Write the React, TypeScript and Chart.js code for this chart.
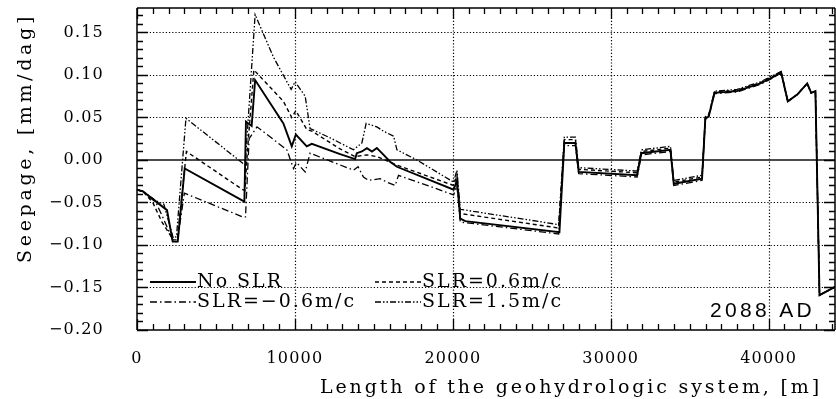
import React, { useEffect, useRef } from "react";
import { Chart, registerables } from "chart.js";

Chart.register(...registerables);

// ---- data ----
const legendLabels = ["No SLR", "SLR=0.6m/c", "SLR=\u22120.6m/c", "SLR=1.5m/c"];
const xTickValues = [0, 10000, 20000, 30000, 40000];
const yTickValues = [-0.2, -0.15, -0.1, -0.05, 0, 0.05, 0.1, 0.15];
const xRange = [0, 44200];
const yRange = [-0.2, 0.1788];
const yearLabel = "2088 AD";
const xTitle = "Length of the geohydrologic system, [m]";
const yTitle = "Seepage, [mm/dag]";

const noSlrX = [0, 380, 1900, 2260, 2580, 3020, 6800, 6900, 7260, 7480, 9270, 9800, 10060, 10750, 11070, 12860, 13810, 13920, 14240, 14560, 14880, 15190, 15510, 16030, 16460, 20050, 20260, 20470, 20790, 26750, 27060, 27760, 27970, 31670, 31940, 33780, 33990, 35780, 35990, 36200, 36570, 38000, 39480, 40320, 40790];
const noSlrY = [-0.035, -0.037, -0.059, -0.096, -0.096, -0.010, -0.049, 0.045, 0.040, 0.094, 0.043, 0.016, 0.030, 0.016, 0.019, 0.007, 0.001, 0.008, 0.010, 0.014, 0.010, 0.014, 0.008, -0.002, -0.008, -0.035, -0.024, -0.069, -0.072, -0.085, 0.020, 0.020, -0.014, -0.018, 0.008, 0.012, -0.028, -0.022, 0.049, 0.051, 0.079, 0.081, 0.090, 0.098, 0.103];

const slr06X = [0, 380, 1000, 1580, 2300, 2550, 3130, 6700, 6830, 7000, 7400, 9270, 9800, 10060, 10750, 11070, 12860, 13810, 14560, 15190, 16460, 20050, 20260, 20470, 26700, 27060, 27760, 27970, 31670, 31940, 33780, 33990, 35780, 35990, 36200, 36570, 38000, 39480, 40320, 40790];
const slr06Y = [-0.035, -0.037, -0.050, -0.073, -0.094, -0.094, 0.010, -0.035, -0.036, 0.012, 0.106, 0.069, 0.050, 0.058, 0.036, 0.034, 0.013, 0.004, 0.006, 0.004, -0.006, -0.030, -0.018, -0.063, -0.080, 0.024, 0.024, -0.011, -0.015, 0.010, 0.014, -0.026, -0.020, 0.050, 0.052, 0.080, 0.082, 0.091, 0.099, 0.104];

const slrM06X = [0, 380, 1200, 1650, 2300, 2550, 3000, 6700, 6870, 7100, 7600, 9490, 9910, 10100, 10650, 10960, 13710, 14000, 14340, 14660, 15400, 15820, 16350, 16560, 20050, 20260, 20470, 26700, 27060, 27760, 27970, 31670, 31940, 33780, 33990, 35780, 35990, 36200, 36570, 38000, 39480, 40320, 40790];
const slrM06Y = [-0.035, -0.037, -0.050, -0.068, -0.096, -0.096, -0.039, -0.067, -0.067, 0.025, 0.039, 0.012, -0.010, -0.003, -0.014, 0.008, -0.012, -0.008, -0.020, -0.024, -0.022, -0.026, -0.030, -0.018, -0.041, -0.030, -0.073, -0.087, 0.017, 0.017, -0.016, -0.020, 0.006, 0.010, -0.030, -0.024, 0.048, 0.050, 0.078, 0.080, 0.089, 0.097, 0.102];

const slr15X = [0, 380, 1200, 1700, 2300, 2500, 3100, 6850, 7480, 8640, 9760, 10010, 10650, 10960, 12230, 13710, 14240, 14510, 15190, 15600, 16250, 16460, 17720, 20050, 20260, 20470, 26700, 27060, 27760, 27970, 31670, 31940, 33780, 33990, 35780, 35990, 36200, 36570, 38000, 39480, 40320, 40790];
const slr15Y = [-0.035, -0.037, -0.048, -0.052, -0.092, -0.090, 0.049, -0.006, 0.171, 0.121, 0.083, 0.092, 0.075, 0.037, 0.026, 0.012, 0.020, 0.043, 0.039, 0.034, 0.028, 0.012, 0.000, -0.026, -0.012, -0.058, -0.076, 0.027, 0.027, -0.009, -0.013, 0.012, 0.016, -0.024, -0.018, 0.051, 0.053, 0.081, 0.083, 0.092, 0.100, 0.104];

// shared tail (all scenarios coincide)
const tailX = [41210, 41810, 42440, 42690, 42960, 43220, 44230];
const tailY = [0.069, 0.077, 0.090, 0.079, 0.081, -0.159, -0.149];

const toPoints = (xs: number[], ys: number[]) =>
  xs.concat(tailX).map((x, i) => ({ x, y: i < ys.length ? ys[i] : tailY[i - ys.length] }));

const SERIF = "'DejaVu Serif', serif";

function drawFitted(ctx: CanvasRenderingContext2D, text: string, x: number, y: number, width: number, font: string) {
  ctx.save();
  ctx.font = font;
  (ctx as any).letterSpacing = "0px";
  const w = ctx.measureText(text).width;
  const s = (width - w) / text.length;
  (ctx as any).letterSpacing = s + "px";
  ctx.textAlign = "left";
  ctx.textBaseline = "alphabetic";
  ctx.fillStyle = "#000";
  ctx.fillText(text, x, y);
  ctx.restore();
}

function strokeSegs(ctx: CanvasRenderingContext2D, segs: number[][], color: string, width: number, dash: number[]) {
  ctx.save();
  ctx.setLineDash(dash);
  ctx.strokeStyle = color;
  ctx.lineWidth = width;
  ctx.beginPath();
  for (const s of segs) {
    ctx.moveTo(s[0], s[1]);
    ctx.lineTo(s[2], s[3]);
  }
  ctx.stroke();
  ctx.restore();
}

const decorPlugin = {
  id: "decor",
  beforeDraw(chart: any) {
    (chart.ctx as any).letterSpacing = "1.2px";
  },
  beforeDatasetsDraw(chart: any) {
    const { ctx, chartArea, scales } = chart;
    const { left, right, top, bottom } = chartArea;
    const xs = scales.x;
    const ys = scales.y;
    // dotted grid
    const grid: number[][] = [];
    xTickValues.forEach((v) => {
      if (v <= xRange[0]) return;
      const px = Math.round(xs.getPixelForValue(v)) + 0.5;
      grid.push([px, top, px, bottom]);
    });
    yTickValues.forEach((v) => {
      if (v <= yRange[0] || v === 0) return;
      const py = Math.round(ys.getPixelForValue(v)) + 0.5;
      grid.push([left, py, right, py]);
    });
    strokeSegs(ctx, grid, "#000", 1.2, [1.2, 2]);
    const py0 = ys.getPixelForValue(0);
    strokeSegs(ctx, [[left, py0, right, py0]], "#111", 1.3, []);
  },
  afterDraw(chart: any) {
    const { ctx, chartArea, scales } = chart;
    const { left, right, top, bottom } = chartArea;
    const xs = scales.x;
    const ys = scales.y;
    ctx.save();
    (ctx as any).letterSpacing = "0px";
    // frame
    strokeSegs(ctx, [[left, top, right, top], [right, top, right, bottom], [right, bottom, left, bottom], [left, bottom, left, top]], "#000", 1.5, []);
    // inward ticks
    const ticks: number[][] = [];
    for (let v = xRange[0]; v <= xRange[1]; v += 1000) {
      const px = Math.round(xs.getPixelForValue(v)) + 0.5;
      const len = v % 10000 === 0 ? 11 : 6;
      ticks.push([px, bottom, px, bottom - len]);
      ticks.push([px, top, px, top + len]);
    }
    for (let i = -20; i / 100 <= yRange[1]; i++) {
      const py = Math.round(ys.getPixelForValue(i / 100)) + 0.5;
      const len = i % 5 === 0 ? 11 : 6;
      ticks.push([left, py, left + len, py]);
      ticks.push([right, py, right - len, py]);
    }
    strokeSegs(ctx, ticks, "#000", 1.3, []);

    // legend
    const order = [0, 1, 2, 3];
    const colX = [left + 13, left + 238];
    const rowY = [bottom - 48, bottom - 28];
    order.forEach((di, k) => {
      const ds = chart.data.datasets.find((d: any) => d.label === legendLabels[di]);
      const cx = colX[k % 2];
      const ry = rowY[Math.floor(k / 2)];
      strokeSegs(ctx, [[cx, ry, cx + 46, ry]], "#000", ds.borderWidth, ds.borderDash || []);
      ctx.save();
      ctx.font = "19px " + SERIF;
      (ctx as any).letterSpacing = "2px";
      ctx.fillStyle = "#000";
      ctx.textBaseline = "alphabetic";
      ctx.fillText(legendLabels[di], cx + 47, ry + 5);
      ctx.restore();
    });

    // annotation
    drawFitted(ctx, yearLabel, right - 125, bottom - 13, 105, "21px 'Liberation Sans', sans-serif");

    // axis titles
    drawFitted(ctx, xTitle, 320, 393, 502, "19px " + SERIF);
    ctx.save();
    ctx.translate(31, 263);
    ctx.rotate(-Math.PI / 2);
    drawFitted(ctx, yTitle, 0, 0, 250, "19px " + SERIF);
    ctx.restore();
    ctx.restore();
  },
};

export default function App() {
  const ref = useRef<HTMLCanvasElement | null>(null);
  useEffect(() => {
    document.body.style.margin = "0";
    const canvas = ref.current!;
    const ds = (label: string, pts: any[], dash: number[], width: number) => ({
      label,
      data: pts,
      borderColor: "#000",
      backgroundColor: "#000",
      borderWidth: width,
      borderDash: dash,
      pointRadius: 0,
      tension: 0,
      fill: false,
    });
    const chart = new Chart(canvas, {
      type: "line",
      data: {
        datasets: [
          ds(legendLabels[2], toPoints(slrM06X, slrM06Y), [7, 3, 1.5, 3], 1.3),
          ds(legendLabels[3], toPoints(slr15X, slr15Y), [6, 2, 1.5, 2, 1.5, 2], 1.3),
          ds(legendLabels[1], toPoints(slr06X, slr06Y), [4, 3], 1.4),
          ds(legendLabels[0], toPoints(noSlrX, noSlrY), [], 1.9),
        ],
      },
      options: {
        animation: false,
        responsive: false,
        devicePixelRatio: 1,
        layout: { padding: { top: 8, right: 1, left: 0, bottom: 0 } },
        plugins: { legend: { display: false }, tooltip: { enabled: false } },
        scales: {
          x: {
            type: "linear",
            min: xRange[0],
            max: xRange[1],
            afterFit: (s: any) => { s.height = 69; s.paddingLeft = 0; s.paddingRight = 0; },
            afterBuildTicks: (s: any) => { s.ticks = xTickValues.map((v) => ({ value: v })); },
            ticks: {
              color: "#000",
              font: { family: SERIF, size: 16 },
              padding: 11,
              maxRotation: 0,
              callback: (v: any) => String(v),
            },
            grid: { display: false },
            border: { display: false },
          },
          y: {
            type: "linear",
            min: yRange[0],
            max: yRange[1],
            afterFit: (s: any) => { s.width = 137; s.paddingTop = 0; s.paddingBottom = 0; },
            afterBuildTicks: (s: any) => { s.ticks = yTickValues.map((v) => ({ value: v })); },
            ticks: {
              color: "#000",
              font: { family: SERIF, size: 16 },
              padding: 25,
              callback: (v: any) => (Number(v) < 0 ? "\u2212" : "") + Math.abs(Number(v)).toFixed(2),
            },
            grid: { display: false },
            border: { display: false },
          },
        },
      },
      plugins: [decorPlugin],
    } as any);
    return () => chart.destroy();
  }, []);
  return <canvas ref={ref} width={836} height={399} style={{ display: "block" }} />;
}
